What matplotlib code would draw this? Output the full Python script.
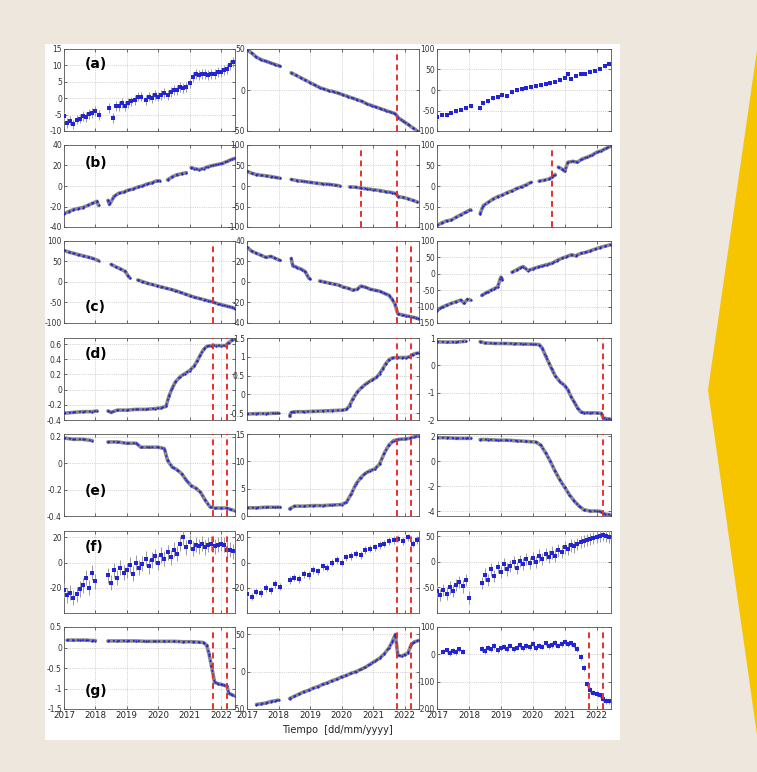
import numpy as np
import matplotlib.pyplot as plt
from matplotlib.patches import Rectangle, Polygon

plt.rcParams['axes.unicode_minus'] = False
plt.rcParams['font.family'] = 'DejaVu Sans'

nan = np.nan

# ---- data (decimal years, values) ----
A1_T = [2017.0, 2017.1, 2017.2, 2017.3, 2017.4, 2017.5, 2017.6, 2017.7, 2017.8, 2017.9, 2018.0, 2018.1, nan,
        2018.45, 2018.55, 2018.65, 2018.75, 2018.85, 2018.95, 2019.05, 2019.15, 2019.25, 2019.35, 2019.45, nan,
        2019.6, 2019.7, 2019.8, 2019.9, 2020.0, 2020.1, 2020.2, 2020.3, 2020.4, 2020.5, 2020.6, 2020.7, 2020.8,
        2020.9, 2021.0, 2021.1, 2021.2, 2021.3, 2021.4, 2021.5, 2021.6, 2021.7, 2021.8, 2021.9, 2022.0, 2022.1,
        2022.2, 2022.3, 2022.4]
A1_Y = [-5.5, -7.5, -6.8, -8, -6.5, -6.2, -5.5, -5.8, -4.8, -4.5, -4, -5, nan,
        -3, -6, -2.5, -2.5, -1.5, -2.5, -1.5, -1, -0.5, 0.5, 0.5, nan,
        -0.5, 0.5, 0, 1, 0.5, 1, 1.5, 1, 2, 2.5, 2.5, 3.5, 3,
        3.5, 4.5, 6.5, 7.5, 7, 7.5, 7.5, 7, 7.5, 7.5, 8, 8, 8.5,
        9, 10, 11]

A2_T = [2017.0, 2017.15, 2017.3, 2017.45, 2017.6, 2017.75, 2017.9, 2018.05, nan, 2018.4, 2018.55, 2018.7,
        2018.85, 2019.0, 2019.15, 2019.3, 2019.45, 2019.6, 2019.75, 2019.9, 2020.05, 2020.2, 2020.35, 2020.5,
        2020.65, 2020.8, 2020.95, 2021.1, 2021.25, 2021.4, 2021.55, 2021.7, 2021.8, 2021.95, 2022.1, 2022.25, 2022.4]
A2_Y = [49, 45, 40, 37, 35, 33, 31, 29, nan, 21, 18, 15,
        12, 9, 6, 3, 1, -1, -2, -4, -6, -8, -10, -12,
        -14, -17, -19, -21, -23, -25, -27, -29, -34, -38, -42, -46, -50]

A3_T = [2017.0, 2017.15, 2017.3, 2017.45, 2017.6, 2017.75, 2017.9, 2018.05, nan, 2018.35, 2018.45, 2018.6,
        2018.75, 2018.9, 2019.05, 2019.2, 2019.35, 2019.5, 2019.65, 2019.8, 2019.95, 2020.1, 2020.25, 2020.4,
        2020.55, 2020.7, 2020.85, 2021.0, 2021.1, 2021.2, 2021.35, 2021.5, 2021.65, 2021.8, 2021.95, 2022.1,
        2022.25, 2022.4]
A3_Y = [-66, -60, -62, -55, -52, -48, -45, -40, nan, -45, -32, -27,
        -20, -18, -12, -15, -5, 0, 2, 5, 7, 9, 12, 14,
        16, 20, 24, 30, 38, 28, 35, 38, 40, 44, 47, 52,
        58, 64]

B1_T = [2017.0, 2017.15, 2017.3, 2017.45, 2017.6, 2017.75, 2017.9, 2018.05, 2018.1, nan, 2018.4, 2018.45,
        2018.6, 2018.75, 2018.9, 2019.05, 2019.2, 2019.35, 2019.5, 2019.65, 2019.8, 2019.95, 2020.05, nan,
        2020.3, 2020.45, 2020.6, 2020.75, 2020.9, nan, 2021.05, 2021.15, 2021.3, 2021.45, 2021.6, 2021.75,
        2021.9, 2022.05, 2022.2, 2022.35, 2022.45]
B1_Y = [-27, -25, -23, -22, -21, -19, -17, -15, -19, nan, -14, -18,
        -10, -7, -6, -4, -3, -1, 0, 2, 3, 5, 5, nan,
        6, 9, 11, 12, 13, nan, 18, 17, 16, 17, 19, 20,
        21, 22, 24, 26, 27]

B2_T = [2017.0, 2017.15, 2017.3, 2017.45, 2017.6, 2017.75, 2017.9, 2018.05, nan, 2018.4, 2018.6, 2018.8,
        2019.0, 2019.2, 2019.4, 2019.6, 2019.8, 2019.95, nan, 2020.25, 2020.45, 2020.6, 2020.8, 2021.0,
        2021.2, 2021.4, 2021.6, 2021.72, 2021.8, 2021.95, 2022.1, 2022.25, 2022.4]
B2_Y = [36, 31, 28, 26, 25, 23, 21, 19, nan, 16, 13, 11,
        9, 7, 5, 4, 2, 0, nan, -2, -3, -5, -7, -9,
        -11, -14, -16, -19, -26, -28, -31, -35, -39]

B3_T = [2017.0, 2017.15, 2017.3, 2017.45, 2017.6, 2017.75, 2017.9, 2018.05, nan, 2018.35, 2018.45, 2018.6,
        2018.75, 2018.9, 2019.05, 2019.2, 2019.35, 2019.5, 2019.65, 2019.8, 2019.95, nan, 2020.2, 2020.35,
        2020.5, 2020.6, 2020.7, nan, 2020.8, 2020.9, 2021.0, 2021.1, 2021.25, 2021.4, 2021.55, 2021.7,
        2021.85, 2022.0, 2022.15, 2022.3, 2022.45]
B3_Y = [-96, -90, -85, -83, -76, -70, -64, -58, nan, -68, -48, -40,
        -32, -26, -22, -16, -12, -6, -2, 3, 9, nan, 12, 14,
        17, 21, 28, nan, 46, 42, 36, 58, 60, 58, 66, 70,
        75, 82, 86, 92, 97]

C1_T = [2017.0, 2017.15, 2017.3, 2017.45, 2017.6, 2017.75, 2017.9, 2018.1, nan, 2018.5, 2018.65, 2018.8,
        2018.95, 2019.05, 2019.1, nan, 2019.35, 2019.5, 2019.65, 2019.8, 2019.95, 2020.1, 2020.25, 2020.4,
        2020.55, 2020.7, 2020.85, 2021.0, 2021.15, 2021.3, 2021.45, 2021.6, 2021.75, 2021.9, 2022.05, 2022.2,
        2022.35, 2022.45]
C1_Y = [77, 73, 70, 67, 64, 61, 58, 52, nan, 43, 37, 32,
        26, 14, 10, nan, 5, 1, -3, -6, -9, -12, -15, -18,
        -21, -25, -29, -33, -37, -40, -43, -46, -49, -53, -56, -59,
        -62, -65]

C2_T = [2017.0, 2017.15, 2017.3, 2017.45, 2017.6, 2017.75, 2017.9, 2018.05, nan, 2018.4, 2018.45, 2018.6,
        2018.75, 2018.85, 2018.95, 2019.0, nan, 2019.3, 2019.45, 2019.6, 2019.75, 2019.9, 2020.05, 2020.2,
        2020.35, 2020.5, 2020.6, 2020.75, 2020.9, 2021.05, 2021.2, 2021.35, 2021.5, 2021.6, 2021.68, 2021.78,
        2021.9, 2022.05, 2022.2, 2022.35, 2022.45]
C2_Y = [34, 30, 28, 26, 24, 25, 23, 21, nan, 23, 16, 14,
        12, 10, 4, 3, nan, 1, 0, -1, -2, -3, -5, -6,
        -8, -7, -4, -5, -7, -8, -9, -11, -13, -17, -21, -31,
        -32, -33, -34, -35, -36]

C3_T = [2017.0, 2017.1, 2017.2, 2017.3, 2017.45, 2017.6, 2017.75, 2017.85, 2017.95, 2018.05, nan, 2018.4,
        2018.5, 2018.6, 2018.7, 2018.8, 2018.9, 2019.0, 2019.05, nan, 2019.35, 2019.5, 2019.6, 2019.7,
        2019.85, 2020.0, 2020.15, 2020.3, 2020.45, 2020.6, 2020.75, 2020.9, 2021.05, 2021.2, 2021.35, 2021.5,
        2021.65, 2021.8, 2021.95, 2022.1, 2022.25, 2022.45]
C3_Y = [-112, -105, -100, -96, -90, -85, -80, -90, -78, -80, nan, -66,
        -60, -55, -50, -45, -40, -10, -18, nan, 5, 12, 18, 22,
        10, 15, 20, 24, 28, 32, 40, 47, 52, 58, 55, 62,
        65, 70, 75, 80, 84, 89]

D1_T = [2017.0, 2017.3, 2017.6, 2017.9, 2018.05, nan, 2018.4, 2018.5, 2018.7, 2019.0, 2019.3, 2019.6,
        2019.9, 2020.1, 2020.25, 2020.35, 2020.45, 2020.55, 2020.7, 2020.85, 2021.0, 2021.15, 2021.25, 2021.35,
        2021.45, 2021.55, 2021.7, 2021.85, 2022.0, 2022.15, 2022.25, 2022.35, 2022.45]
D1_Y = [-0.31, -0.30, -0.29, -0.29, -0.28, nan, -0.28, -0.30, -0.27, -0.27, -0.26, -0.26,
        -0.25, -0.24, -0.22, -0.08, 0.02, 0.10, 0.17, 0.21, 0.25, 0.31, 0.38, 0.46,
        0.53, 0.57, 0.58, 0.58, 0.58, 0.58, 0.62, 0.65, 0.67]

D2_T = [2017.0, 2017.3, 2017.6, 2017.9, 2018.0, nan, 2018.35, 2018.4, 2018.5, 2018.8, 2019.1, 2019.4,
        2019.7, 2020.0, 2020.15, 2020.25, 2020.35, 2020.5, 2020.65, 2020.8, 2020.95, 2021.1, 2021.2, 2021.3,
        2021.4, 2021.5, 2021.6, 2021.75, 2021.9, 2022.05, 2022.15, 2022.25, 2022.35, 2022.45]
D2_Y = [-0.52, -0.51, -0.51, -0.50, -0.50, nan, -0.58, -0.48, -0.46, -0.46, -0.45, -0.44,
        -0.43, -0.42, -0.40, -0.30, -0.12, 0.07, 0.20, 0.30, 0.38, 0.45, 0.55, 0.68,
        0.82, 0.92, 0.97, 0.98, 0.98, 0.98, 1.0, 1.06, 1.09, 1.1]

D3_T = [2017.0, 2017.3, 2017.6, 2017.9, nan, 2018.35, 2018.5, 2018.8, 2019.1, 2019.4, 2019.7, 2020.0,
        2020.2, 2020.3, 2020.4, 2020.5, 2020.6, 2020.7, 2020.85, 2021.0, 2021.1, 2021.2, 2021.3, 2021.4,
        2021.5, 2021.6, 2021.8, 2022.0, 2022.15, 2022.2, 2022.3, 2022.45]
D3_Y = [0.86, 0.85, 0.85, 0.88, nan, 0.87, 0.82, 0.80, 0.80, 0.79, 0.78, 0.77,
        0.76, 0.62, 0.35, 0.10, -0.15, -0.38, -0.60, -0.74, -0.90, -1.15, -1.35, -1.55,
        -1.70, -1.74, -1.74, -1.74, -1.76, -1.92, -1.95, -1.97]

E1_T = [2017.0, 2017.3, 2017.6, 2017.9, nan, 2018.4, 2018.7, 2019.0, 2019.3, 2019.45, 2019.7, 2020.0,
        2020.2, 2020.3, 2020.45, 2020.6, 2020.75, 2020.9, 2021.05, 2021.2, 2021.35, 2021.5, 2021.65, 2021.8,
        2022.0, 2022.2, 2022.3, 2022.45]
E1_Y = [0.19, 0.18, 0.18, 0.17, nan, 0.16, 0.16, 0.15, 0.15, 0.12, 0.12, 0.12,
        0.11, 0.02, -0.03, -0.05, -0.08, -0.13, -0.17, -0.19, -0.22, -0.28, -0.33, -0.34,
        -0.34, -0.34, -0.35, -0.36]

E2_T = [2017.0, 2017.3, 2017.6, 2017.9, 2018.05, nan, 2018.35, 2018.5, 2018.8, 2019.1, 2019.4, 2019.7,
        2020.0, 2020.15, 2020.3, 2020.45, 2020.6, 2020.75, 2020.9, 2021.05, 2021.2, 2021.35, 2021.5, 2021.65,
        2021.8, 2022.0, 2022.15, 2022.3, 2022.45]
E2_Y = [1.5, 1.5, 1.6, 1.6, 1.6, nan, 1.3, 1.8, 1.8, 1.9, 1.9, 2.0,
        2.1, 2.5, 4.0, 5.8, 7.0, 7.8, 8.3, 8.6, 9.5, 11.5, 13.0, 13.8,
        14.0, 14.1, 14.2, 14.5, 14.6]

E3_T = [2017.0, 2017.3, 2017.6, 2017.9, 2018.05, nan, 2018.35, 2018.6, 2018.9, 2019.2, 2019.5, 2019.8,
        2020.1, 2020.25, 2020.4, 2020.55, 2020.7, 2020.85, 2021.0, 2021.15, 2021.3, 2021.45, 2021.6, 2021.8,
        2022.0, 2022.15, 2022.25, 2022.45]
E3_Y = [1.9, 1.9, 1.85, 1.85, 1.85, nan, 1.75, 1.75, 1.7, 1.7, 1.65, 1.6,
        1.55, 1.3, 0.7, 0.0, -0.8, -1.5, -2.1, -2.7, -3.2, -3.6, -3.9, -4.0,
        -4.0, -4.05, -4.25, -4.3]

F1_T = [2017.0, 2017.1, 2017.2, 2017.3, 2017.4, 2017.5, 2017.6, 2017.7, 2017.8, 2017.9, 2018.0, nan,
        2018.4, 2018.5, 2018.6, 2018.7, 2018.8, 2018.9, 2019.0, 2019.1, 2019.2, 2019.3, 2019.4, 2019.5,
        2019.6, 2019.7, 2019.8, 2019.9, 2020.0, 2020.1, 2020.2, 2020.3, 2020.4, 2020.5, 2020.6, 2020.7,
        2020.8, 2020.9, 2021.0, 2021.1, 2021.2, 2021.3, 2021.4, 2021.5, 2021.6, 2021.7, 2021.8, 2021.9,
        2022.0, 2022.1, 2022.2, 2022.3, 2022.4]
F1_Y = [-22, -26, -24, -28, -25, -21, -18, -12, -20, -8, -15, nan,
        -10, -16, -6, -12, -4, -8, -6, -2, -9, 0, -4, -1,
        3, -3, 2, 5, 0, 6, 3, 8, 4, 10, 7, 15,
        20, 12, 16, 11, 14, 13, 15, 12, 14, 15, 13, 14,
        15, 14, 10, 10, 9]

F2_T = [2017.0, 2017.15, 2017.3, 2017.45, 2017.6, 2017.75, 2017.9, 2018.05, nan, 2018.35, 2018.5, 2018.65,
        2018.8, 2018.95, 2019.1, 2019.25, 2019.4, 2019.55, 2019.7, 2019.85, 2020.0, 2020.15, 2020.3, 2020.45,
        2020.6, 2020.75, 2020.9, 2021.05, 2021.2, 2021.35, 2021.5, 2021.65, 2021.8, 2021.95, 2022.1, 2022.25,
        2022.4]
F2_Y = [-25, -27, -23, -24, -20, -22, -17, -19, nan, -14, -12, -13,
        -9, -10, -6, -7, -3, -4, 0, 2, 0, 4, 5, 7,
        6, 10, 11, 12, 14, 15, 17, 18, 19, 17, 20, 15,
        18]

F3_T = [2017.0, 2017.1, 2017.2, 2017.3, 2017.4, 2017.5, 2017.6, 2017.7, 2017.8, 2017.9, 2018.0, nan,
        2018.4, 2018.5, 2018.6, 2018.7, 2018.8, 2018.9, 2019.0, 2019.1, 2019.2, 2019.3, 2019.4, 2019.5,
        2019.6, 2019.7, 2019.8, 2019.9, 2020.0, 2020.1, 2020.2, 2020.3, 2020.4, 2020.5, 2020.6, 2020.7,
        2020.8, 2020.9, 2021.0, 2021.1, 2021.2, 2021.3, 2021.4, 2021.5, 2021.6, 2021.7, 2021.8, 2021.9,
        2022.0, 2022.1, 2022.2, 2022.3, 2022.4]
F3_Y = [-58, -65, -55, -62, -50, -57, -45, -40, -48, -35, -70, nan,
        -42, -25, -35, -15, -28, -10, -20, -5, -15, -8, 0, -12,
        2, -5, 5, -2, 8, 0, 12, 5, 15, 10, 18, 12,
        22, 20, 28, 25, 32, 30, 35, 38, 40, 42, 45, 46,
        48, 50, 52, 50, 49]

G1_T = [2017.1, 2017.3, 2017.5, 2017.7, 2017.9, 2018.0, nan, 2018.4, 2018.7, 2019.0, 2019.3, 2019.6,
        2019.9, 2020.2, 2020.5, 2020.8, 2021.1, 2021.3, 2021.45, 2021.55, 2021.62, 2021.7, 2021.8, 2021.9,
        2022.0, 2022.1, 2022.2, 2022.25, 2022.35, 2022.45]
G1_Y = [0.18, 0.18, 0.18, 0.18, 0.17, 0.17, nan, 0.16, 0.16, 0.16, 0.16, 0.15,
        0.15, 0.15, 0.15, 0.14, 0.14, 0.13, 0.12, 0.05, -0.15, -0.45, -0.85, -0.88,
        -0.9, -0.92, -0.95, -1.12, -1.15, -1.18]

G2_T = [2017.3, 2017.45, 2017.6, 2017.75, 2017.9, 2018.0, nan, 2018.35, 2018.5, 2018.65, 2018.8, 2018.95,
        2019.1, 2019.25, 2019.4, 2019.55, 2019.7, 2019.85, 2020.0, 2020.15, 2020.3, 2020.45, 2020.6, 2020.75,
        2020.9, 2021.05, 2021.2, 2021.35, 2021.5, 2021.6, 2021.7, 2021.78, 2021.9, 2022.0, 2022.1, 2022.2,
        2022.3, 2022.45]
G2_Y = [-44, -43, -42, -40, -39, -38, nan, -36, -33, -30, -27, -25,
        -22, -20, -17, -15, -12, -10, -7, -5, -2, 0, 3, 6,
        10, 14, 18, 24, 32, 40, 50, 22, 21, 23, 25, 36,
        40, 42]

G3_T = [2017.2, 2017.3, 2017.4, 2017.5, 2017.6, 2017.7, 2017.8, nan, 2018.4, 2018.5, 2018.6, 2018.7,
        2018.8, 2018.9, 2019.0, 2019.1, 2019.2, 2019.3, 2019.4, 2019.5, 2019.6, 2019.7, 2019.8, 2019.9,
        2020.0, 2020.1, 2020.2, 2020.3, 2020.4, 2020.5, 2020.6, 2020.7, 2020.8, 2020.9, 2021.0, 2021.1,
        2021.2, 2021.3, 2021.4, 2021.5, 2021.6, 2021.7, 2021.8, 2021.9, 2022.0, 2022.1, 2022.2, 2022.3,
        2022.4]
G3_Y = [10, 15, 5, 12, 8, 18, 10, nan, 20, 12, 25, 18,
        30, 15, 22, 28, 20, 32, 18, 25, 35, 22, 30, 26,
        38, 24, 32, 28, 40, 30, 35, 42, 32, 38, 45, 36,
        40, 35, 20, -10, -50, -110, -130, -140, -145, -150, -165, -170,
        -172]

# dashed red event lines per panel
REDS = {
    'a2': [2021.75],
    'b2': [2020.6, 2021.75], 'b3': [2020.6],
    'c1': [2021.75], 'c2': [2021.75, 2022.2],
    'd1': [2021.75, 2022.18], 'd2': [2021.75, 2022.2], 'd3': [2022.2],
    'e1': [2021.75, 2022.18], 'e2': [2021.75, 2022.2], 'e3': [2022.2],
    'f1': [2021.75, 2022.18], 'f2': [2021.75, 2022.2],
    'g1': [2021.75, 2022.18], 'g2': [2021.75, 2022.2], 'g3': [2021.75, 2022.2],
}

YEARS = [2017, 2018, 2019, 2020, 2021, 2022]

# panel: (t, y, ylim, yticks, error bar size or None)
PANELS = {
    'a1': (A1_T, A1_Y, (-10, 15), [-10, -5, 0, 5, 10, 15], 1.5),
    'a2': (A2_T, A2_Y, (-50, 50), [-50, 0, 50], None),
    'a3': (A3_T, A3_Y, (-100, 100), [-100, -50, 0, 50, 100], 4),
    'b1': (B1_T, B1_Y, (-40, 40), [-40, -20, 0, 20, 40], None),
    'b2': (B2_T, B2_Y, (-100, 100), [-100, -50, 0, 50, 100], None),
    'b3': (B3_T, B3_Y, (-100, 100), [-100, -50, 0, 50, 100], None),
    'c1': (C1_T, C1_Y, (-100, 100), [-100, -50, 0, 50, 100], None),
    'c2': (C2_T, C2_Y, (-40, 40), [-40, -20, 0, 20, 40], None),
    'c3': (C3_T, C3_Y, (-150, 100), [-150, -100, -50, 0, 50, 100], None),
    'd1': (D1_T, D1_Y, (-0.4, 0.68), [-0.4, -0.2, 0, 0.2, 0.4, 0.6], None),
    'd2': (D2_T, D2_Y, (-0.68, 1.5), [-0.5, 0, 0.5, 1, 1.5], None),
    'd3': (D3_T, D3_Y, (-2, 1), [-2, -1, 0, 1], None),
    'e1': (E1_T, E1_Y, (-0.4, 0.22), [-0.4, -0.2, 0, 0.2], None),
    'e2': (E2_T, E2_Y, (0, 15), [0, 5, 10, 15], None),
    'e3': (E3_T, E3_Y, (-4.4, 2.2), [-4, -2, 0, 2], None),
    'f1': (F1_T, F1_Y, (-40, 25), [-20, 0, 20], 6),
    'f2': (F2_T, F2_Y, (-40, 25), [-20, 0, 20], 3),
    'f3': (F3_T, F3_Y, (-100, 60), [-50, 0, 50], 12),
    'g1': (G1_T, G1_Y, (-1.5, 0.5), [-1.5, -1, -0.5, 0, 0.5], None),
    'g2': (G2_T, G2_Y, (-50, 60), [-50, 0, 50], None),
    'g3': (G3_T, G3_Y, (-200, 100), [-200, -100, 0, 100], 10),
}

LETTER_POS = {'a': 0.82, 'b': 0.78, 'c': 0.2, 'd': 0.8, 'e': 0.3, 'f': 0.8, 'g': 0.22}

W, H = 757, 772
fig = plt.figure(figsize=(W / 100, H / 100), dpi=100)
fig.patch.set_facecolor('#ede7de')

# white card and yellow accent shape (behind the axes)
fig.patches.append(Rectangle((45 / W, 1 - 740 / H), 575 / W, 696 / H, transform=fig.transFigure,
                             facecolor='white', edgecolor='none', zorder=-5))
fig.patches.append(Polygon([(1.0, 1 - 50 / H), (708 / W, 1 - 390 / H), (1.0, 1 - 735 / H)],
                           closed=True, transform=fig.transFigure, facecolor='#f7c500',
                           edgecolor='none', zorder=-5))

col_left = [64, 247, 437]
col_width = [171, 172, 174]
row_top = [49, 145, 241, 338, 434, 531, 627]
row_h = 82

blue = '#2323d8'
gray = '#8a8a8a'

for r, letter in enumerate('abcdefg'):
    for c in range(3):
        key = f'{letter}{c + 1}'
        t, y, ylim, yticks, err = PANELS[key]
        ax = fig.add_axes([col_left[c] / W, 1 - (row_top[r] + row_h) / H,
                           col_width[c] / W, row_h / H])
        ax.set_zorder(2)
        ax.set_facecolor('white')
        t = np.array(t)
        y = np.array(y)
        if err is None:
            ax.plot(t, y, color=gray, lw=2.6, solid_capstyle='round', zorder=2)
            ax.plot(t, y, color=blue, lw=1.2, ls=(0, (1.2, 1.8)), zorder=3)
            ax.plot(t, y, 'o', color=blue, ms=1.6, mew=0, zorder=4)
        else:
            ok = ~np.isnan(y)
            ax.errorbar(t[ok], y[ok], yerr=err, fmt='s', color=blue, ms=2.2, mew=0,
                        ecolor='#9a9a9a', elinewidth=0.7, capsize=1.0, capthick=0.5, zorder=3)
        for xr in REDS.get(key, []):
            ax.axvline(xr, color='#e8302a', lw=1.4, ls=(0, (3, 2.2)), zorder=5)
        ax.set_xlim(2017.0, 2022.45)
        ax.set_ylim(*ylim)
        ax.set_xticks(YEARS)
        ax.set_yticks(yticks)
        ax.set_yticklabels([f'{v:g}' for v in yticks])
        ax.grid(True, ls=':', lw=0.5, color='#b0b0b0')
        ax.tick_params(direction='in', length=2, width=0.5, top=True, right=True,
                       labelsize=5.5, pad=1.5, colors='#333333')
        for s in ax.spines.values():
            s.set_linewidth(0.6)
            s.set_color('#555555')
        if r == 6:
            ax.set_xticklabels([str(v) for v in YEARS], fontsize=6.2, color='#222222')
        else:
            ax.set_xticklabels([])
        if c == 0:
            ax.text(0.12, LETTER_POS[letter], f'({letter})', transform=ax.transAxes,
                    fontsize=10, fontweight='bold', va='center', ha='left', zorder=6)

fig.text(337 / W, 1 - 730 / H, 'Tiempo  [dd/mm/yyyy]', ha='center', va='center',
         fontsize=7, color='#222222')

fig.savefig('out.png', dpi=100, facecolor=fig.get_facecolor())
